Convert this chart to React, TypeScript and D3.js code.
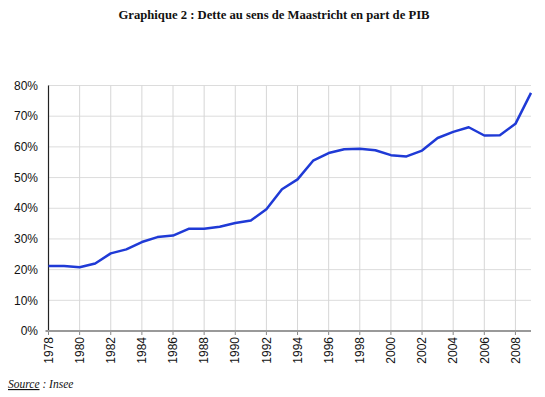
import React from "react";
import * as d3 from "d3";

const years = [1978,1979,1980,1981,1982,1983,1984,1985,1986,1987,1988,1989,1990,1991,1992,1993,1994,1995,1996,1997,1998,1999,2000,2001,2002,2003,2004,2005,2006,2007,2008,2009];
const debt = [21.2,21.2,20.8,22.0,25.3,26.6,29.0,30.6,31.1,33.3,33.3,34.0,35.2,36.0,39.7,46.2,49.4,55.5,58.0,59.2,59.4,58.9,57.3,56.9,58.8,62.9,64.9,66.4,63.7,63.8,67.5,77.6];
const yTicks = [0,10,20,30,40,50,60,70,80];
const xTicks = [1978,1980,1982,1984,1986,1988,1990,1992,1994,1996,1998,2000,2002,2004,2006,2008];
const title = "Graphique 2 : Dette au sens de Maastricht en part de PIB";

export default function App() {
  const W = 545, H = 397;
  const x = d3.scaleLinear().domain([1978, 2009]).range([48.5, 531]);
  const y = d3.scaleLinear().domain([0, 80]).range([331, 85.5]);
  const line = d3.line<number>().x((_, i) => x(years[i])).y(d => y(d));
  const sans = "'Liberation Sans', Arial, Helvetica, sans-serif";
  const serif = "'Liberation Serif', 'DejaVu Serif', serif";
  return (
    <svg width={W} height={H} style={{ position: "absolute", left: 0, top: 0, display: "block" }}>
      <rect width={W} height={H} fill="#fff" />
      <text x={274} y={19} textAnchor="middle" fontFamily={serif} fontWeight="bold" fontSize={13.5} textLength={311} lengthAdjust="spacingAndGlyphs" fill="#111">{title}</text>
      {yTicks.map(t => (
        <line key={"gy" + t} x1={x(1978)} x2={x(2009)} y1={y(t)} y2={y(t)} stroke="#dcdcdc" strokeWidth={1} />
      ))}
      {xTicks.map(t => (
        <line key={"gx" + t} x1={x(t)} x2={x(t)} y1={y(80)} y2={y(0)} stroke="#d6d6d6" strokeWidth={1} />
      ))}
      <line x1={x(1978)} x2={x(1978)} y1={y(80)} y2={y(0)} stroke="#222" strokeWidth={1.2} />
      {xTicks.map(t => (
        <line key={"tk" + t} x1={x(t)} x2={x(t)} y1={y(0)} y2={y(0) + 4} stroke="#888" strokeWidth={1} />
      ))}
      <line x1={x(1978) - 3} x2={x(2009)} y1={y(0)} y2={y(0)} stroke="#999" strokeWidth={2} />
      {yTicks.map(t => (
        <text key={"ly" + t} x={38} y={y(t)} dy="0.35em" textAnchor="end" fontFamily={sans} fontSize={12} fill="#111">{t + "%"}</text>
      ))}
      {xTicks.map(t => (
        <text key={"lx" + t} transform={`translate(${x(t)},${y(0) + 6}) rotate(-90)`} dy="0.35em" textAnchor="end" fontFamily={sans} fontSize={12} fill="#111">{t}</text>
      ))}
      <path d={line(debt) || ""} fill="none" stroke="#1f3ad6" strokeWidth={2.5} strokeLinejoin="round" />
      <text x={8} y={388} fontFamily={serif} fontStyle="italic" fontSize={11.5} fill="#111">
        <tspan textDecoration="underline">Source</tspan>
        <tspan> : Insee</tspan>
      </text>
    </svg>
  );
}
